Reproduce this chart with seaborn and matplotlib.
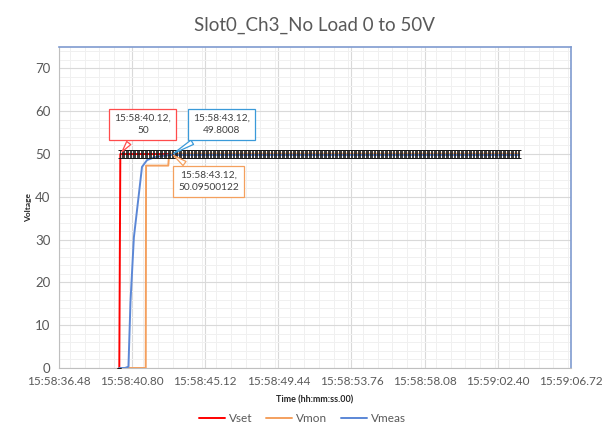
import numpy as np
import pandas as pd
import matplotlib
matplotlib.use("Agg")
import matplotlib.pyplot as plt
from matplotlib.ticker import FixedLocator, MultipleLocator, FuncFormatter
import seaborn as sns

# --- DATA (time = seconds after 15:58:00) ---
t_set = [40.06, 40.12]
v_set = [0.0, 50.0]
hold_start, hold_end, hold_step = 40.12, 63.66, 0.08   # Vset held at 50 V
hold_value = 50.0
err_pct = 0.02

t_mon = [40.06, 40.60, 41.62, 41.64, 42.95, 43.00, 43.12, 63.66]
v_mon = [0.0, 0.0, 0.0, 47.3, 47.3, 50.0, 50.09500122, 50.09]

t_meas = [40.06, 40.40, 40.60, 40.72, 40.92, 41.40, 41.70, 42.10, 42.60, 43.12, 63.66]
v_meas = [0.0, 0.0, 0.3, 15.5, 30.5, 47.0, 48.6, 49.2, 49.6, 49.8008, 49.80]

x_ticks = [36.48, 40.80, 45.12, 49.44, 53.76, 58.08, 62.40, 66.72]
y_ticks = [0, 10, 20, 30, 40, 50, 60, 70]

colors = {"Vset": "#FF0000", "Vmon": "#F4A05E", "Vmeas": "#5B87D6"}

# dense Vset samples during the hold
t_hold = np.arange(hold_start, hold_end + 1e-9, hold_step)
t_set_all = np.concatenate([t_set[:1], t_hold])
v_set_all = np.concatenate([v_set[:1], np.full(len(t_hold), hold_value)])

df = pd.concat([
    pd.DataFrame({"t": t_set_all, "v": v_set_all, "series": "Vset"}),
    pd.DataFrame({"t": t_mon, "v": v_mon, "series": "Vmon"}),
    pd.DataFrame({"t": t_meas, "v": v_meas, "series": "Vmeas"}),
])

sns.set_style("white")
plt.rcParams['font.family'] = ['Lato', 'DejaVu Sans']

fig = plt.figure(figsize=(6.05, 4.36), dpi=100)
ax = fig.add_axes([0.0969, 0.156, 0.8471, 0.736])

sns.lineplot(data=df, x="t", y="v", hue="series", palette=colors,
             estimator=None, sort=False, linewidth=1.4, ax=ax, legend=False)

# percentage error bars on Vset
ax.errorbar(t_set_all, v_set_all, yerr=err_pct * v_set_all, fmt="none",
            ecolor="#1a1a1a", elinewidth=0.6, capsize=1.3, capthick=0.7, zorder=3)

ax.set_xlim(x_ticks[0], x_ticks[-1])
ax.set_ylim(0, 75)
ax.xaxis.set_major_locator(FixedLocator(x_ticks))
ax.xaxis.set_minor_locator(MultipleLocator(0.864))
ax.yaxis.set_major_locator(FixedLocator(y_ticks))
ax.yaxis.set_minor_locator(MultipleLocator(2))


def fmt_time(s, pos):
    total = 15 * 3600 + 58 * 60 + s
    h = int(total // 3600)
    m = int((total % 3600) // 60)
    sec = total - h * 3600 - m * 60
    return f"{h}:{m:02d}:{sec:05.2f}"


ax.xaxis.set_major_formatter(FuncFormatter(fmt_time))
ax.grid(which="major", color="#D9D9D9", linewidth=0.8)
ax.grid(which="minor", color="#F0F0F0", linewidth=0.7)
ax.set_axisbelow(True)
ax.tick_params(axis="both", which="both", length=0, colors="#595959", labelsize=8.5)
ax.tick_params(axis="y", labelsize=9.5, pad=6)
ax.tick_params(axis="x", pad=6)

for side in ["left", "bottom"]:
    ax.spines[side].set_color("#BFBFBF")
    ax.spines[side].set_linewidth(0.8)
for side in ["top", "right"]:
    ax.spines[side].set_color("#7F9BD0")
    ax.spines[side].set_linewidth(1.2)

ax.set_title("Slot0_Ch3_No Load 0 to 50V", fontsize=13.5, color="#595959", pad=12)
ax.set_xlabel("Time (hh:mm:ss.00)", fontsize=6.5, fontweight="bold", color="#262626", labelpad=6)
ax.set_ylabel("Voltage", fontsize=6, fontweight="bold", color="#262626", labelpad=2)

# callouts
callouts = [
    ("15:58:40.12,\n50", 40.12, 50.0, 41.45, 56.9, "#FF4B4B"),
    ("15:58:43.12,\n49.8008", 43.12, 49.8008, 46.1, 56.9, "#3A9AD9"),
    ("15:58:43.12,\n50.09500122", 43.12, 50.09500122, 45.34, 43.6, "#F4A05E"),
]
for txt, x, y, tx, ty, c in callouts:
    ax.annotate(txt, xy=(x, y), xytext=(tx, ty), ha="center", va="center",
                fontsize=7.3, color="#404040", zorder=6, linespacing=1.5,
                bbox=dict(boxstyle="square,pad=0.5", fc="white", ec=c, lw=0.9),
                arrowprops=dict(arrowstyle="wedge,tail_width=0.5,shrink_factor=0.5",
                                fc="white", ec=c, lw=0.9))

handles = [plt.Line2D([], [], color=colors[k], lw=1.4) for k in ["Vset", "Vmon", "Vmeas"]]
fig.legend(handles, ["Vset", "Vmon", "Vmeas"], loc="center", bbox_to_anchor=(0.5, 0.04),
           ncol=3, frameon=False, fontsize=8.5, handlelength=2.2, handletextpad=0.3,
           columnspacing=1.2, labelcolor="#595959")

fig.savefig("out.png", dpi=100)
